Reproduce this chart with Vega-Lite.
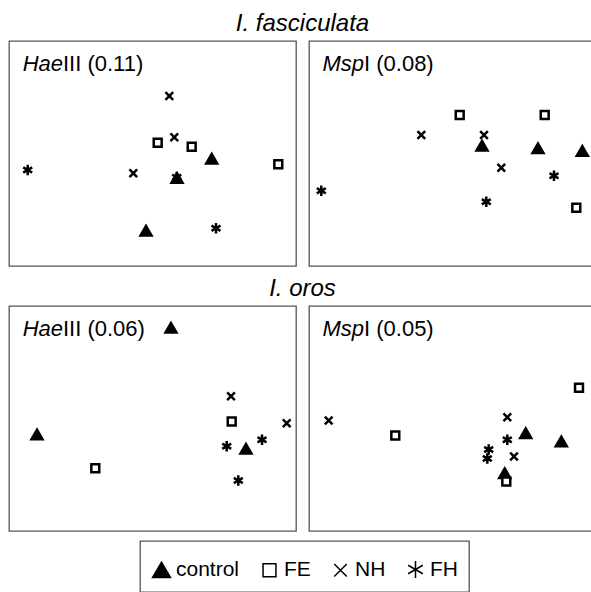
{
  "$schema": "https://vega.github.io/schema/vega-lite/v6.json",
  "padding": {"left": 8, "top": 12, "right": 0, "bottom": 0},
  "datasets": {
    "points": [
      {"species": "I. fasciculata", "enzyme": "HaeIII", "group": "NH", "x": 160.3, "y": 170},
      {"species": "I. fasciculata", "enzyme": "HaeIII", "group": "FE", "x": 148.7, "y": 123.3},
      {"species": "I. fasciculata", "enzyme": "HaeIII", "group": "NH", "x": 165.3, "y": 128.7},
      {"species": "I. fasciculata", "enzyme": "HaeIII", "group": "FE", "x": 182.7, "y": 119.3},
      {"species": "I. fasciculata", "enzyme": "HaeIII", "group": "control", "x": 202.7, "y": 107.3},
      {"species": "I. fasciculata", "enzyme": "HaeIII", "group": "FE", "x": 269.3, "y": 101.7},
      {"species": "I. fasciculata", "enzyme": "HaeIII", "group": "FH", "x": 18.7, "y": 96},
      {"species": "I. fasciculata", "enzyme": "HaeIII", "group": "NH", "x": 124.3, "y": 92.7},
      {"species": "I. fasciculata", "enzyme": "HaeIII", "group": "control", "x": 168, "y": 88},
      {"species": "I. fasciculata", "enzyme": "HaeIII", "group": "FH", "x": 167.7, "y": 88.7},
      {"species": "I. fasciculata", "enzyme": "HaeIII", "group": "control", "x": 137, "y": 35.3},
      {"species": "I. fasciculata", "enzyme": "HaeIII", "group": "FH", "x": 207, "y": 37.7},
      {"species": "I. fasciculata", "enzyme": "MspI", "group": "FE", "x": 150.7, "y": 151},
      {"species": "I. fasciculata", "enzyme": "MspI", "group": "FE", "x": 235.7, "y": 151},
      {"species": "I. fasciculata", "enzyme": "MspI", "group": "NH", "x": 112.3, "y": 131},
      {"species": "I. fasciculata", "enzyme": "MspI", "group": "NH", "x": 175, "y": 131},
      {"species": "I. fasciculata", "enzyme": "MspI", "group": "control", "x": 173, "y": 120.3},
      {"species": "I. fasciculata", "enzyme": "MspI", "group": "control", "x": 229, "y": 117.7},
      {"species": "I. fasciculata", "enzyme": "MspI", "group": "control", "x": 273.3, "y": 115},
      {"species": "I. fasciculata", "enzyme": "MspI", "group": "NH", "x": 192.3, "y": 98.3},
      {"species": "I. fasciculata", "enzyme": "MspI", "group": "FH", "x": 245, "y": 90.3},
      {"species": "I. fasciculata", "enzyme": "MspI", "group": "FH", "x": 12.3, "y": 75.3},
      {"species": "I. fasciculata", "enzyme": "MspI", "group": "FH", "x": 177.3, "y": 64.3},
      {"species": "I. fasciculata", "enzyme": "MspI", "group": "FE", "x": 267.3, "y": 58.3},
      {"species": "I. oros", "enzyme": "HaeIII", "group": "control", "x": 162, "y": 203.2},
      {"species": "I. oros", "enzyme": "HaeIII", "group": "NH", "x": 222, "y": 134.8},
      {"species": "I. oros", "enzyme": "HaeIII", "group": "FE", "x": 222.7, "y": 109.5},
      {"species": "I. oros", "enzyme": "HaeIII", "group": "NH", "x": 277.7, "y": 107.8},
      {"species": "I. oros", "enzyme": "HaeIII", "group": "control", "x": 28, "y": 96.5},
      {"species": "I. oros", "enzyme": "HaeIII", "group": "FH", "x": 253, "y": 91.2},
      {"species": "I. oros", "enzyme": "HaeIII", "group": "FH", "x": 217.7, "y": 84.8},
      {"species": "I. oros", "enzyme": "HaeIII", "group": "control", "x": 237, "y": 82.2},
      {"species": "I. oros", "enzyme": "HaeIII", "group": "FE", "x": 86.3, "y": 62.8},
      {"species": "I. oros", "enzyme": "HaeIII", "group": "FH", "x": 229.3, "y": 50.5},
      {"species": "I. oros", "enzyme": "MspI", "group": "FE", "x": 270, "y": 143.2},
      {"species": "I. oros", "enzyme": "MspI", "group": "NH", "x": 19.7, "y": 110.5},
      {"species": "I. oros", "enzyme": "MspI", "group": "NH", "x": 198.3, "y": 113.8},
      {"species": "I. oros", "enzyme": "MspI", "group": "FE", "x": 86.3, "y": 95.5},
      {"species": "I. oros", "enzyme": "MspI", "group": "control", "x": 216.7, "y": 97.8},
      {"species": "I. oros", "enzyme": "MspI", "group": "FH", "x": 198.3, "y": 91.2},
      {"species": "I. oros", "enzyme": "MspI", "group": "control", "x": 252.3, "y": 89.5},
      {"species": "I. oros", "enzyme": "MspI", "group": "FH", "x": 179.7, "y": 81.5},
      {"species": "I. oros", "enzyme": "MspI", "group": "FH", "x": 178.3, "y": 72.5},
      {"species": "I. oros", "enzyme": "MspI", "group": "NH", "x": 205, "y": 74.5},
      {"species": "I. oros", "enzyme": "MspI", "group": "control", "x": 195.7, "y": 57.8},
      {"species": "I. oros", "enzyme": "MspI", "group": "FE", "x": 197.3, "y": 49.5}
    ],
    "labels": [
      {"species": "I. fasciculata", "enzyme": "HaeIII", "italic": "Hae", "roman": "III (0.11)"},
      {"species": "I. fasciculata", "enzyme": "MspI", "italic": "Msp", "roman": "I (0.08)"},
      {"species": "I. oros", "enzyme": "HaeIII", "italic": "Hae", "roman": "III (0.06)"},
      {"species": "I. oros", "enzyme": "MspI", "italic": "Msp", "roman": "I (0.05)"}
    ]
  },
  "vconcat": [
    {
      "title": "I. fasciculata",
      "spacing": 11,
      "hconcat": [
        {
          "width": 287, "height": 225,
          "layer": [
            {
              "data": {"name": "points"},
              "transform": [{"filter": "datum.species === 'I. fasciculata' && datum.enzyme === 'HaeIII'"}],
              "mark": {"type": "point", "filled": true, "opacity": 1, "strokeWidth": 2.5, "size": 121},
              "encoding": {
                "x": {"field": "x", "type": "quantitative", "scale": {"domain": [0, 287], "nice": false, "zero": false}, "axis": null},
                "y": {"field": "y", "type": "quantitative", "scale": {"domain": [0, 225], "nice": false, "zero": false}, "axis": null},
                "shape": {"field": "group", "type": "nominal", "scale": {"domain": ["control", "FE", "NH", "FH"], "range": ["M0,-0.866L1,0.866L-1,0.866Z", "M-0.72,-0.72L0.72,-0.72L0.72,0.72L-0.72,0.72Z", "M-0.7,-0.7L0.7,0.7M0.7,-0.7L-0.7,0.7", "M0,-0.95L0,0.95M-0.82,-0.475L0.82,0.475M-0.82,0.475L0.82,-0.475"]},
                  "legend": {"orient": "none", "legendX": 131, "legendY": 500, "direction": "horizontal", "title": " ", "titleFontSize": 6, "titlePadding": 1}},
                "fill": {"field": "group", "type": "nominal", "scale": {"domain": ["control", "FE", "NH", "FH"], "range": ["black", "white", "transparent", "transparent"]},
                  "legend": {"orient": "none", "legendX": 131, "legendY": 500, "direction": "horizontal", "title": " ", "titleFontSize": 6, "titlePadding": 1}},
                "stroke": {"field": "group", "type": "nominal", "scale": {"domain": ["control", "FE", "NH", "FH"], "range": ["black", "black", "black", "black"]},
                  "legend": {"orient": "none", "legendX": 131, "legendY": 500, "direction": "horizontal", "title": " ", "titleFontSize": 6, "titlePadding": 1}}
              }
            },
            {
              "data": {"name": "labels"},
              "transform": [{"filter": "datum.species === 'I. fasciculata' && datum.enzyme === 'HaeIII'"}],
              "mark": {"type": "text", "align": "right", "baseline": "alphabetic", "fontStyle": "italic", "fontSize": 22, "font": "Liberation Sans", "color": "black"},
              "encoding": {"x": {"value": 54}, "y": {"value": 30}, "text": {"field": "italic"}}
            },
            {
              "data": {"name": "labels"},
              "transform": [{"filter": "datum.species === 'I. fasciculata' && datum.enzyme === 'HaeIII'"}],
              "mark": {"type": "text", "align": "left", "baseline": "alphabetic", "fontSize": 22, "font": "Liberation Sans", "color": "black"},
              "encoding": {"x": {"value": 54}, "y": {"value": 30}, "text": {"field": "roman"}}
            }
          ]
        },
        {
          "width": 287, "height": 225,
          "layer": [
            {
              "data": {"name": "points"},
              "transform": [{"filter": "datum.species === 'I. fasciculata' && datum.enzyme === 'MspI'"}],
              "mark": {"type": "point", "filled": true, "opacity": 1, "strokeWidth": 2.5, "size": 121},
              "encoding": {
                "x": {"field": "x", "type": "quantitative", "scale": {"domain": [0, 287], "nice": false, "zero": false}, "axis": null},
                "y": {"field": "y", "type": "quantitative", "scale": {"domain": [0, 225], "nice": false, "zero": false}, "axis": null},
                "shape": {"field": "group", "type": "nominal"},
                "fill": {"field": "group", "type": "nominal"},
                "stroke": {"field": "group", "type": "nominal"}
              }
            },
            {
              "data": {"name": "labels"},
              "transform": [{"filter": "datum.species === 'I. fasciculata' && datum.enzyme === 'MspI'"}],
              "mark": {"type": "text", "align": "right", "baseline": "alphabetic", "fontStyle": "italic", "fontSize": 22, "font": "Liberation Sans", "color": "black"},
              "encoding": {"x": {"value": 55}, "y": {"value": 30}, "text": {"field": "italic"}}
            },
            {
              "data": {"name": "labels"},
              "transform": [{"filter": "datum.species === 'I. fasciculata' && datum.enzyme === 'MspI'"}],
              "mark": {"type": "text", "align": "left", "baseline": "alphabetic", "fontSize": 22, "font": "Liberation Sans", "color": "black"},
              "encoding": {"x": {"value": 55}, "y": {"value": 30}, "text": {"field": "roman"}}
            }
          ]
        }
      ]
    },
    {
      "title": "I. oros",
      "spacing": 11,
      "hconcat": [
        {
          "width": 287, "height": 225,
          "layer": [
            {
              "data": {"name": "points"},
              "transform": [{"filter": "datum.species === 'I. oros' && datum.enzyme === 'HaeIII'"}],
              "mark": {"type": "point", "filled": true, "opacity": 1, "strokeWidth": 2.5, "size": 121},
              "encoding": {
                "x": {"field": "x", "type": "quantitative", "scale": {"domain": [0, 287], "nice": false, "zero": false}, "axis": null},
                "y": {"field": "y", "type": "quantitative", "scale": {"domain": [0, 225], "nice": false, "zero": false}, "axis": null},
                "shape": {"field": "group", "type": "nominal"},
                "fill": {"field": "group", "type": "nominal"},
                "stroke": {"field": "group", "type": "nominal"}
              }
            },
            {
              "data": {"name": "labels"},
              "transform": [{"filter": "datum.species === 'I. oros' && datum.enzyme === 'HaeIII'"}],
              "mark": {"type": "text", "align": "right", "baseline": "alphabetic", "fontStyle": "italic", "fontSize": 22, "font": "Liberation Sans", "color": "black"},
              "encoding": {"x": {"value": 54}, "y": {"value": 30}, "text": {"field": "italic"}}
            },
            {
              "data": {"name": "labels"},
              "transform": [{"filter": "datum.species === 'I. oros' && datum.enzyme === 'HaeIII'"}],
              "mark": {"type": "text", "align": "left", "baseline": "alphabetic", "fontSize": 22, "font": "Liberation Sans", "color": "black"},
              "encoding": {"x": {"value": 54}, "y": {"value": 30}, "text": {"field": "roman"}}
            }
          ]
        },
        {
          "width": 287, "height": 225,
          "layer": [
            {
              "data": {"name": "points"},
              "transform": [{"filter": "datum.species === 'I. oros' && datum.enzyme === 'MspI'"}],
              "mark": {"type": "point", "filled": true, "opacity": 1, "strokeWidth": 2.5, "size": 121},
              "encoding": {
                "x": {"field": "x", "type": "quantitative", "scale": {"domain": [0, 287], "nice": false, "zero": false}, "axis": null},
                "y": {"field": "y", "type": "quantitative", "scale": {"domain": [0, 225], "nice": false, "zero": false}, "axis": null},
                "shape": {"field": "group", "type": "nominal"},
                "fill": {"field": "group", "type": "nominal"},
                "stroke": {"field": "group", "type": "nominal"}
              }
            },
            {
              "data": {"name": "labels"},
              "transform": [{"filter": "datum.species === 'I. oros' && datum.enzyme === 'MspI'"}],
              "mark": {"type": "text", "align": "right", "baseline": "alphabetic", "fontStyle": "italic", "fontSize": 22, "font": "Liberation Sans", "color": "black"},
              "encoding": {"x": {"value": 55}, "y": {"value": 30}, "text": {"field": "italic"}}
            },
            {
              "data": {"name": "labels"},
              "transform": [{"filter": "datum.species === 'I. oros' && datum.enzyme === 'MspI'"}],
              "mark": {"type": "text", "align": "left", "baseline": "alphabetic", "fontSize": 22, "font": "Liberation Sans", "color": "black"},
              "encoding": {"x": {"value": 55}, "y": {"value": 30}, "text": {"field": "roman"}}
            }
          ]
        }
      ]
    }
  ],
  "spacing": 10,
  "config": {
    "view": {"stroke": "#555555", "strokeWidth": 1.3},
    "title": {"font": "Liberation Sans", "fontSize": 24, "fontStyle": "italic", "fontWeight": "normal", "color": "black", "anchor": "middle", "offset": 4},
    "legend": {
      "labelFont": "Liberation Sans",
      "labelFontSize": 21,
      "labelColor": "black",
      "labelOffset": 4,
      "columnPadding": 19,
      "padding": 11,
      "strokeColor": "#555555",
      "strokeWidth": 1.3,
      "symbolSize": 320,
      "symbolStrokeWidth": 1.5
    }
  }
}
